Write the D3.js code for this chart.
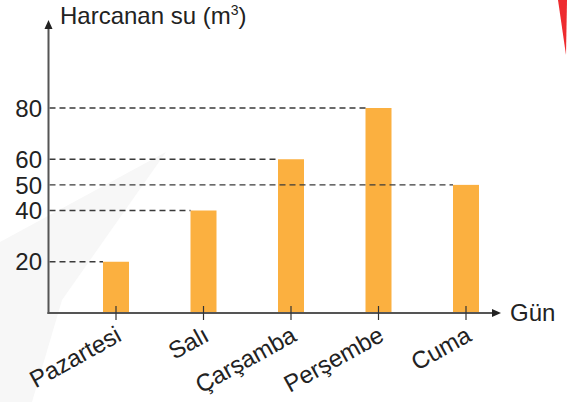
<!DOCTYPE html>
<html lang="tr">
<head>
<meta charset="UTF-8">
<title>Harcanan su</title>
<script src="https://d3js.org/d3.v7.min.js"></script>
<style>
  body { margin: 0; background: #fff; }
  svg { display: block; }
  text { font-family: "Liberation Sans", Arial, sans-serif; fill: #222; }
</style>
</head>
<body>
<svg width="572" height="402"></svg>
<script>
// chart data
const days = ["Pazartesi", "Salı", "Çarşamba", "Perşembe", "Cuma"];
const water = [20, 40, 60, 80, 50];
const yTicks = [20, 40, 50, 60, 80];

const svg = d3.select("svg");

// faint background decorations from the page
svg.append("polygon")
  .attr("points", "0,242 166,152 62,300 32,402 0,402")
  .attr("fill", "#f7f7f7");
svg.append("polygon")
  .attr("points", "558,0 567,0 566,55")
  .attr("fill", "#ee2b2f");

const x0 = 48.5, y0 = 313;
const x = d3.scalePoint().domain(days).range([116, 466]);
const y = d3.scaleLinear().domain([0, 80]).range([y0, 108]);
const barW = 26;
const fs = 24;

// bars
svg.append("g").selectAll("rect")
  .data(days)
  .join("rect")
  .attr("x", d => x(d) - barW / 2)
  .attr("y", (d, i) => y(water[i]))
  .attr("width", barW)
  .attr("height", (d, i) => y0 - y(water[i]))
  .attr("fill", "#fbb040");

// dashed guides from the axis to each bar
svg.append("g").selectAll("line")
  .data(days)
  .join("line")
  .attr("x1", x0 + 1)
  .attr("x2", d => x(d) - barW / 2)
  .attr("y1", (d, i) => y(water[i]))
  .attr("y2", (d, i) => y(water[i]))
  .attr("stroke", "#3a3a3a")
  .attr("stroke-width", 1.3)
  .attr("stroke-dasharray", "6,4");

// y tick labels
svg.append("g").selectAll("text")
  .data(yTicks)
  .join("text")
  .attr("x", 42)
  .attr("y", d => y(d))
  .attr("dy", "0.36em")
  .attr("text-anchor", "end")
  .attr("font-size", fs)
  .text(d => d);

// axes with arrows
const axisColor = "#555";
svg.append("line")
  .attr("x1", x0).attr("y1", y0 + 1)
  .attr("x2", x0).attr("y2", 28)
  .attr("stroke", axisColor).attr("stroke-width", 2);
svg.append("path")
  .attr("d", `M${x0},20 L${x0 - 4},29 L${x0 + 4},29 Z`)
  .attr("fill", "#222");
svg.append("line")
  .attr("x1", x0 - 1).attr("y1", y0)
  .attr("x2", 493).attr("y2", y0)
  .attr("stroke", axisColor).attr("stroke-width", 2);
svg.append("path")
  .attr("d", `M501,${y0} L492,${y0 - 4} L492,${y0 + 4} Z`)
  .attr("fill", "#222");

// x ticks
svg.append("g").selectAll("line")
  .data(days)
  .join("line")
  .attr("x1", d => x(d)).attr("x2", d => x(d))
  .attr("y1", y0 - 7).attr("y2", y0 + 7)
  .attr("stroke", "#333").attr("stroke-width", 1.2);

// x labels, rotated
svg.append("g").selectAll("text")
  .data(days)
  .join("text")
  .attr("text-anchor", "end")
  .attr("font-size", fs)
  .attr("transform", d => `translate(${x(d) + 7},340) rotate(-29)`)
  .text(d => d);

// axis titles
const title = svg.append("text")
  .attr("x", 60).attr("y", 24)
  .attr("font-size", fs);
title.append("tspan").text("Harcanan su (m");
title.append("tspan").attr("font-size", 14).attr("dy", -9).text("3");
title.append("tspan").attr("dy", 9).text(")");

svg.append("text")
  .attr("x", 510).attr("y", 321)
  .attr("font-size", fs)
  .text("Gün");
</script>
</body>
</html>
